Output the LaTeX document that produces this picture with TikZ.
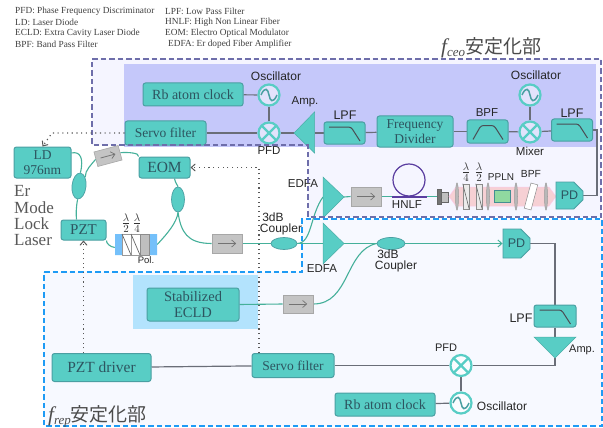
\documentclass[tikz,border=0pt]{standalone}
\usepackage{fontspec}
\setmainfont{Liberation Serif}
\newfontfamily\lblfont{Liberation Sans}
\newfontfamily\cjkfont{Noto Sans CJK JP}
\usetikzlibrary{shapes.geometric,shapes.misc,calc,arrows.meta}
\definecolor{teal1}{HTML}{58CDC5}
\definecolor{teal2}{HTML}{4A9FA2}
\definecolor{tealtxt}{HTML}{2D5560}
\definecolor{fib}{HTML}{45B09A}
\definecolor{wire}{HTML}{6A6E78}
\definecolor{purp}{HTML}{6E6EAA}
\definecolor{blued}{HTML}{1E9BF5}
\definecolor{isog}{HTML}{C4C4C4}
\definecolor{pinkb}{HTML}{F6D0D4}
\definecolor{innerb}{HTML}{C5C8FA}
\definecolor{eclb}{HTML}{B3E3FD}
\definecolor{ceobg}{HTML}{F5F5FF}
\definecolor{repbg}{HTML}{F7F9FF}
\definecolor{polb}{HTML}{74C0FA}
\definecolor{hnlfc}{HTML}{5A3DA0}
\definecolor{pplnc}{HTML}{90D9A0}
\pgfdeclarelayer{bglayer}
\pgfdeclarelayer{wirelayer}
\pgfdeclarelayer{dashlayer}
\pgfsetlayers{bglayer,wirelayer,main,dashlayer}
\tikzset{
  x=1pt,y=-1pt,
  box/.style={draw=teal2,line width=1pt,fill=teal1,rounded corners=2.5pt,inner sep=0pt,align=center,text=tealtxt,font=\fontsize{14}{15.5}\selectfont},
  iso/.style={draw=isog!85!black,line width=.6pt,fill=isog,minimum width=#1,inner sep=0pt},
  iso/.default=30,
  cpl/.style={ellipse,draw=teal2,line width=.7pt,fill=teal1,inner sep=0pt},
  rf/.style={circle,draw=teal1,line width=2.2pt,fill=white,fill opacity=.5,text opacity=1,minimum size=21pt,inner sep=0pt},
  mixer/.style={rf,path picture={\draw[teal1,line width=2.2pt] ([shift={(-8,-8)}]path picture bounding box.center)--([shift={(8,8)}]path picture bounding box.center) ([shift={(8,-8)}]path picture bounding box.center)--([shift={(-8,8)}]path picture bounding box.center);}},
  osc/.style={rf,path picture={\coordinate (O) at (path picture bounding box.center);\draw[teal2,line width=1.5pt] ($(O)+(-8,0)$) .. controls ($(O)+(-4,-9)$) and ($(O)+(-1,-6)$) .. (O) .. controls ($(O)+(1,6)$) and ($(O)+(4,9)$) .. ($(O)+(8,0)$);}},
  lowpass/.style={box,path picture={\coordinate (O) at (path picture bounding box.center);\draw[wire!70!black,line width=1pt] ($(O)+(-15.5,-6)$)--($(O)+(6.5,-6)$)--($(O)+(15.5,8)$);}},
  bandpass/.style={box,path picture={\coordinate (O) at (path picture bounding box.center);\draw[wire!70!black,line width=1pt] ($(O)+(-14.5,8)$)--($(O)+(-6.5,-6)$)--($(O)+(6.5,-6)$)--($(O)+(15.5,8)$);}},
  pdbox/.style={chamfered rectangle,chamfered rectangle corners={north east,south east},chamfered rectangle xsep=5pt,chamfered rectangle ysep=5pt,draw=teal2,line width=.8pt,fill=teal1,inner sep=0pt,text=tealtxt,font=\lblfont\fontsize{12.5}{14}\selectfont},
  tri/.style={fill=teal1,draw=teal1!85!black,line width=.5pt},
  fiber/.style={fib,line width=1.1pt},
  elec/.style={wire,line width=1.2pt},
  dots/.style={draw=black!65,line width=1.2pt,dash pattern=on 1.1pt off 3.6pt},
  dottip/.style={-{Straight Barb[length=4pt,width=7pt,line width=1pt]}},
  lbl/.style={font=\lblfont\fontsize{11.5}{13}\selectfont,text=black!85,inner sep=0pt},
  legendtxt/.style={font=\fontsize{9.3}{10}\selectfont,anchor=west,inner sep=0pt,text=black!75},
  lens/.style={ellipse,draw=black!40,line width=.5pt,fill=black!28,minimum width=3pt,minimum height=27pt,inner sep=0pt},
  plate/.style={draw=black!45,line width=.5pt,fill=black!8,minimum width=6pt,minimum height=25pt,inner sep=0pt},
  fracl/.style={font=\fontsize{15}{17}\selectfont,inner sep=0pt,text=black!80},
  titl/.style={font=\fontsize{18}{20}\selectfont,anchor=west,inner sep=0pt,text=black!70},
  isoarrow/.style={draw=black!55,line width=.8pt,-{Straight Barb[length=4pt,width=7pt,line width=.7pt]}},
  lasertxt/.style={font=\fontsize{17}{17}\selectfont,anchor=west,inner sep=0pt,text=black!65},
  cplabel/.style={lbl,font=\lblfont\fontsize{12}{13}\selectfont},
}
\newcommand{\isoarr}[1]{\draw[isoarrow] ($(#1.west)!.2!(#1.east)$) -- ($(#1.west)!.8!(#1.east)$);}
\begin{document}
\begin{tikzpicture}
\useasboundingbox (0,0) rectangle (603,428);
\begin{pgfonlayer}{bglayer}
\fill[white] (0,0) rectangle (603,428);
\fill[ceobg] (92,59)--(601,59)--(601,217)--(308,217)--(308,145)--(92,145)--cycle;
\fill[repbg] (44,272)--(302,272)--(302,219)--(602,219)--(602,426)--(44,426)--cycle;
\fill[innerb] (124,64) rectangle (596,147);
\fill[eclb] (133,275) rectangle (258,329);
\end{pgfonlayer}
% legend
\foreach \t/\xx/\yy in {PFD: Phase Frequency Discriminator/15/11,LD: Laser Diode/15/22,ECLD: Extra Cavity Laser Diode/15/33,BPF: Band Pass Filter/15/44.5,LPF: Low Pass Filter/165/11,HNLF: High Non Linear Fiber/165/22,EOM: Electro Optical Modulator/165/33,EDFA: Er doped Fiber Amplifier/168/44.5}
  \node[legendtxt] at (\xx,\yy) {\t};
% top chain
\node[box,minimum width=100pt,minimum height=23pt] (rb1) at (193,94.5) {Rb atom clock};
\node[box,minimum width=81pt,minimum height=24pt,font=\fontsize{13.5}{15}\selectfont] (servo1) at (165.5,133) {Servo filter};
\node[osc] (osc1) at (269,95) {};
\node[mixer] (pfd1) at (269,133) {};
\coordinate (amp1tip) at (294,133);
\coordinate (amp1base) at (314.5,133);
\draw[tri] (294,133)--(314.5,112)--(314.5,153)--cycle;
\node[lowpass,minimum width=41pt,minimum height=22pt] (lpf1) at (344.5,133) {};
\node[box,minimum width=76pt,minimum height=31pt,font=\fontsize{13.5}{14.5}\selectfont] (fd) at (415,131.5) {Frequency\\Divider};
\node[bandpass,minimum width=41pt,minimum height=23pt] (bpf1) at (487.5,131.5) {};
\node[mixer] (mix) at (530,132) {};
\node[osc] (osc2) at (530,95) {};
\node[lowpass,minimum width=41pt,minimum height=22pt] (lpf3) at (572,130) {};
\coordinate (turn1) at (597,160);
\node[lbl,font=\lblfont\fontsize{12}{13}\selectfont] at (276,76) {Oscillator};
\node[lbl,font=\lblfont\fontsize{12}{13}\selectfont] at (536,75) {Oscillator};
\node[lbl] at (269,151) {PFD};
\node[lbl] at (530,151) {Mixer};
\node[lbl] at (305,102) {Amp.};
\node[lbl,font=\lblfont\fontsize{12.5}{13}\selectfont] at (345,115) {LPF};
\node[lbl] at (487,113) {BPF};
\node[lbl,font=\lblfont\fontsize{12.5}{13}\selectfont] at (572,113) {LPF};
% ring
\node[box,minimum width=57pt,minimum height=31pt,font=\fontsize{13.5}{15}\selectfont] (ld) at (42.5,162.5) {LD\\976nm};
\node[box,minimum width=51pt,minimum height=21pt,font=\fontsize{15.5}{17}\selectfont] (eom) at (164.5,167.5) {EOM};
\node[box,minimum width=45pt,minimum height=20pt,font=\fontsize{15}{17}\selectfont] (pzt) at (83.5,230) {PZT};
\node[cpl,minimum width=14pt,minimum height=26pt,rotate=-6] (cl) at (79,186) {};
\node[cpl,minimum width=13pt,minimum height=25pt] (cr) at (178,199.5) {};
\node[iso=25,minimum height=15pt,rotate=15] (iso1) at (108,156) {};
\isoarr{iso1}
\node[inner sep=0pt,minimum width=42pt,minimum height=21pt] (pol) at (136,244.5) {};
\node[iso=30,minimum height=19pt] (iso2) at (227,243.5) {};
\isoarr{iso2}
\node[cpl,minimum width=26pt,minimum height=12pt] (c1) at (284,243.5) {};
\fill[polb] (115,234) rectangle (122,255) (149,234) rectangle (157,255);
\draw[black!40,line width=.6pt,fill=white] (122,234) rectangle (131,255);
\draw[black!40,line width=.6pt,fill=white] (131,234) rectangle (140,255);
\draw[black!45,line width=.6pt,fill=black!25] (140,234) rectangle (149,255);
\draw[black!60,line width=.7pt] (122,234)--(131,255) (131,234)--(140,255);
\node[fracl] at (126,223) {$\frac{\lambda}{2}$};
\node[fracl] at (137,223) {$\frac{\lambda}{4}$};
\node[lbl,font=\lblfont\fontsize{9.5}{10}\selectfont] at (146,260) {Pol.};
\node[cplabel] at (273,217) {3dB};
\node[cplabel] at (281,229.5) {Coupler};
\node[lasertxt] at (14,191) {Er};
\node[lasertxt] at (14,207.5) {Mode};
\node[lasertxt] at (14,224) {Lock};
\node[lasertxt] at (14,240.5) {Laser};
% f_ceo optics
\coordinate (ea1tip) at (344,197);
\coordinate (ea1base) at (323,197);
\draw[tri] (344,197)--(323,177)--(323,218)--cycle;
\node[iso=30,minimum height=19pt] (iso3) at (366,196.5) {};
\isoarr{iso3}
\draw[hnlfc,line width=1.2pt] (409,180) circle (16);
\coordinate (hn1) at (392,197);
\coordinate (hn2) at (427,197);
\draw[hnlfc,line width=2pt] (hn1)--(hn2);
\node[lbl] at (407,204.5) {HNLF};
\node[draw=black!60,fill=black!55,inner sep=0pt,minimum width=4pt,minimum height=15pt] (col1) at (439,196.5) {};
\node[draw=black!60,fill=black!25,inner sep=0pt,minimum width=7pt,minimum height=10pt] (col2) at (444.5,197) {};
\draw[pinkb!80!magenta!60!white,line width=.5pt,fill=pinkb] (449,196.5)--(456,187)--(549,187)--(556,196.5)--(549,206)--(456,206)--cycle;
\node[lens] at (457,196.5) {};
\node[lens] at (488,196.5) {};
\node[lens] at (516,196.5) {};
\node[lens] at (546,196.5) {};
\node[plate] (wp1) at (466,196.5) {};
\node[plate] (wp2) at (479,196.5) {};
\draw[black!60,line width=.6pt] (wp1.north west)--(wp1.south east) (wp2.north west)--(wp2.south east);
\node[draw=teal2!90!black,line width=.5pt,fill=pplnc,inner sep=0pt,minimum width=16pt,minimum height=12pt] at (502,196) {};
\node[plate,minimum width=7pt,minimum height=26pt,fill=white,rotate=-15] at (531,196.5) {};
\node[fracl] at (466,172) {$\frac{\lambda}{4}$};
\node[fracl] at (479,172) {$\frac{\lambda}{2}$};
\node[lbl,font=\lblfont\fontsize{10}{11}\selectfont] at (501,177) {PPLN};
\node[lbl,font=\lblfont\fontsize{10.3}{11}\selectfont] at (531,174) {BPF};
\node[pdbox,minimum width=27pt,minimum height=27pt] (pd1) at (569.5,195.5) {PD};
% f_rep chain
\coordinate (ea2tip) at (344,243.5);
\coordinate (ea2base) at (323,243.5);
\draw[tri] (344,243.5)--(323,223)--(323,264)--cycle;
\node[cpl,minimum width=28pt,minimum height=12pt] (c2) at (391,243.5) {};
\node[pdbox,minimum width=27pt,minimum height=29pt] (pd2) at (516.5,243.5) {PD};
\node[lowpass,minimum width=42pt,minimum height=22pt] (lpf4) at (555,316) {};
\draw[tri] (534,337)--(576,337)--(555,358)--cycle;
\coordinate (amp3top) at (555,337);
\coordinate (amp3tip) at (555,358);
\node[mixer] (pfd2) at (461,365.5) {};
\node[osc] (osc3) at (461,403) {};
\node[box,minimum width=100pt,minimum height=23pt] (rb2) at (385,404.5) {Rb atom clock};
\node[box,minimum width=82pt,minimum height=24pt,font=\fontsize{13.5}{15}\selectfont] (servo2) at (293,365.5) {Servo filter};
\node[box,minimum width=99pt,minimum height=28pt,font=\fontsize{15.5}{17}\selectfont] (pztd) at (101.5,367.5) {PZT driver};
\node[box,minimum width=92pt,minimum height=33pt,font=\fontsize{14.5}{16}\selectfont] (ecld) at (193,304.5) {Stabilized\\ECLD};
\node[iso=30,minimum height=18pt] (iso4) at (298,304) {};
\isoarr{iso4}
\node[lbl,font=\lblfont\fontsize{12.5}{13}\selectfont] at (521,318) {LPF};
\node[lbl,font=\lblfont\fontsize{11}{12}\selectfont] at (582,350) {Amp.};
\node[lbl,font=\lblfont\fontsize{11}{12}\selectfont] at (446,348) {PFD};
\node[lbl,font=\lblfont\fontsize{12}{13}\selectfont] at (502,406) {Oscillator};
\node[lbl] at (322,269) {EDFA};
\node[lbl] at (303,184) {EDFA};
\node[cplabel] at (388,254) {3dB};
\node[cplabel] at (396,266.5) {Coupler};
% wires
\begin{pgfonlayer}{wirelayer}
\draw[elec] (rb1)--(osc1);
\draw[elec] (osc1)--(pfd1);
\draw[elec] (servo1)--(pfd1);
\draw[elec] (pfd1)--(amp1tip);
\draw[elec] (amp1base)--(lpf1);
\draw[elec] (lpf1)--(fd);
\draw[elec] (fd)--(bpf1);
\draw[elec] (bpf1)--(mix);
\draw[elec] (osc2)--(mix);
\draw[elec] (mix)--(lpf3);
\draw[elec] (lpf3.east) -| (turn1) |- (pd1.east);
\draw[elec] (pd2.east) -| (lpf4.north);
\draw[elec] (lpf4.south)--(amp3top);
\draw[elec] (amp3tip) |- (pfd2.east);
\draw[elec] (pfd2)--(servo2);
\draw[elec] (servo2)--(pztd);
\draw[elec] (pfd2)--(osc3);
\draw[elec] (osc3)--(rb2);
\draw[fiber] (ld.east|-0,153) .. controls (80,151) and (84,158) .. (cl.north);
\draw[fiber] (cl.north east) .. controls (85,170) and (92,164) .. (iso1.west);
\draw[fiber] (iso1.east) .. controls (128,152) and (140,153) .. (eom.north west);
\draw[fiber] (eom.south east) ++(-16,0) .. controls (175,181) .. (cr.north);
\draw[fiber] (cr.south) .. controls (177,222) and (168,233) .. (pol.east);
\draw[fiber] (pol.west) ++(0,3) .. controls (110,247) and (106,243) .. (pzt.south east);
\draw[fiber] (pzt.north west) ++(16,0) .. controls (76,214) and (76,208) .. (cl.south);
\draw[fiber] (cr.south) .. controls (181,232) and (187,243.5) .. (iso2.west);
\draw[fiber] (iso2.east)--(c1.west);
\draw[fiber] (c1.east) .. controls (312,243) and (310,215) .. (ea1base);
\draw[fiber] (c1.east)--(ea2base);
\draw[fiber] (ea1tip)--(iso3.west);
\draw[fiber] (iso3.east)--(col1.west);
\draw[fiber] (ea2tip)--(c2.west);
\draw[fiber,-{Straight Barb[length=4pt,width=7pt,line width=1pt]}] (c2.east)--(pd2.west);
\draw[fiber] (ecld.east)--(iso4.west);
\draw[fiber] (iso4.east) .. controls (350,304) and (345,250) .. (c2.west);
\end{pgfonlayer}
% dashed outlines, dotted links, titles
\begin{pgfonlayer}{dashlayer}
\draw[purp,line width=1.5pt,dash pattern=on 5.5pt off 3pt] (92,59)--(601,59)--(601,217)--(308,217)--(308,145)--(92,145)--cycle;
\draw[blued,line width=1.5pt,dash pattern=on 5.5pt off 3pt] (44,272)--(302,272)--(302,219)--(602,219)--(602,426)--(44,426)--cycle;
\coordinate (dot1) at (259,353);
\coordinate (dot2) at (52,133);
\draw[dots,dottip] (dot1) |- (eom.east);
\draw[dots,dottip] (pzt.south |- pztd.north)--(pzt.south);
\draw[dots,dottip] (servo1.west)--(dot2)--(ld.north);
\node[titl] at (441,48) {\itshape\fontsize{21}{21}\selectfont f\raisebox{-3pt}{\fontsize{13}{13}\selectfont ceo}\upshape\cjkfont\fontsize{19}{19}\selectfont 安定化部};
\node[titl] at (48,416) {\itshape\fontsize{21}{21}\selectfont f\raisebox{-3pt}{\fontsize{13}{13}\selectfont rep}\upshape\cjkfont\fontsize{19}{19}\selectfont 安定化部};
\end{pgfonlayer}
\end{tikzpicture}
\end{document}
